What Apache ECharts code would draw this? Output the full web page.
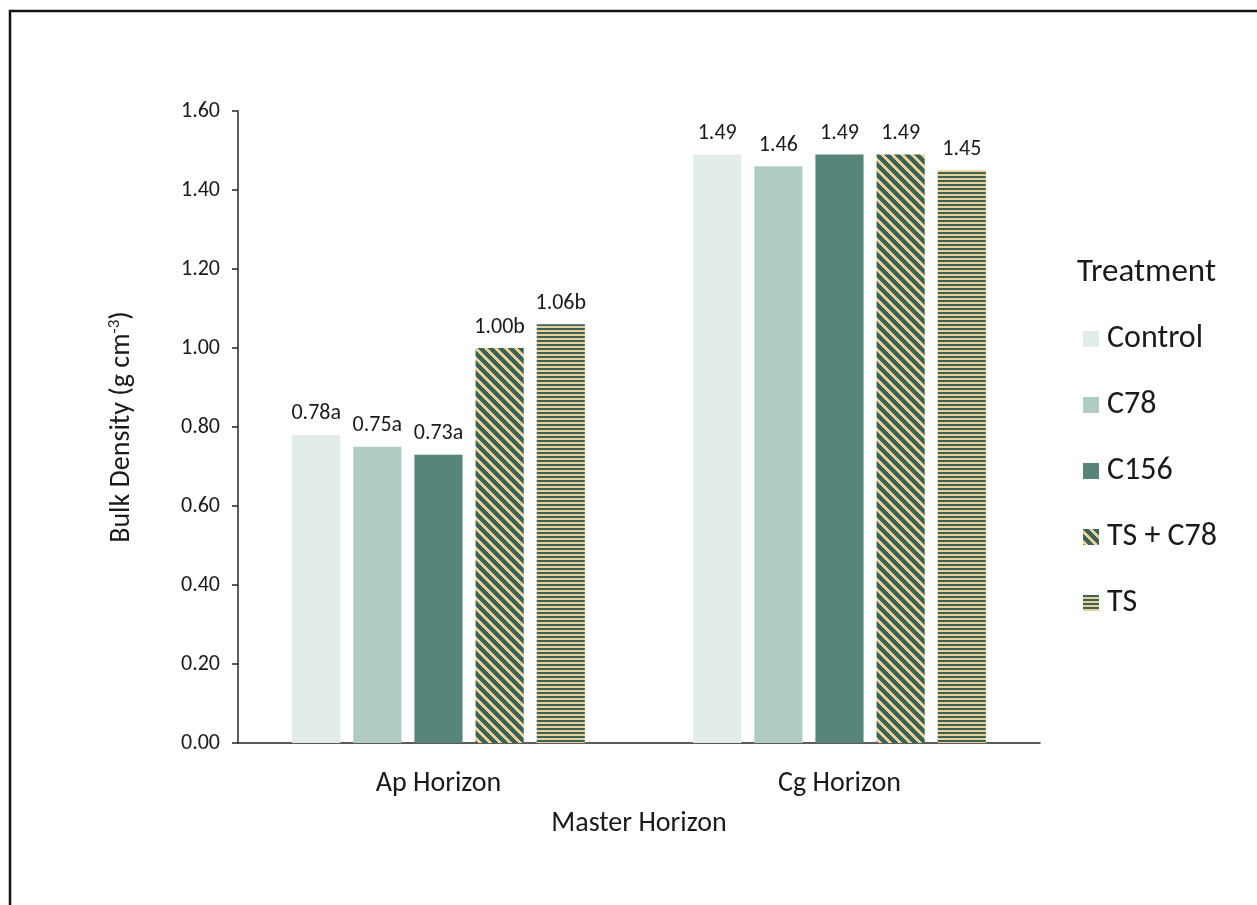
<!DOCTYPE html>
<html>
<head>
<meta charset="utf-8">
<script src="https://cdn.jsdelivr.net/npm/echarts@6/dist/echarts.min.js"></script>
<style>
  html, body { margin: 0; padding: 0; background: #fff; }
  #chart { width: 1257px; height: 905px; }
</style>
</head>
<body>
<div id="chart"></div>
<script>
// Bulk density by master horizon and treatment
const horizons = ['Ap Horizon', 'Cg Horizon'];
const treatments = ['Control', 'C78', 'C156', 'TS + C78', 'TS'];
const apValues = [0.78, 0.75, 0.73, 1.00, 1.06];
const cgValues = [1.49, 1.46, 1.49, 1.49, 1.45];
const apLetters = ['a', 'a', 'a', 'b', 'b'];
const cgLetters = ['', '', '', '', ''];
const yTicks = [0, 0.2, 0.4, 0.6, 0.8, 1.0, 1.2, 1.4, 1.6];

const FONT = 'Carlito, Lato, sans-serif';
const DARK = '#3d6354';
const TAN = '#e8d09a';

// Build a repeating tile; dark(x, y) decides whether a pixel takes the dark colour
function makeTile(w, h, dark) {
  const c = document.createElement('canvas');
  c.width = w; c.height = h;
  const ctx = c.getContext('2d');
  const img = ctx.createImageData(w, h);
  const hex = s => [parseInt(s.slice(1, 3), 16), parseInt(s.slice(3, 5), 16), parseInt(s.slice(5, 7), 16)];
  const d = hex(DARK), t = hex(TAN);
  for (let y = 0; y < h; y++) {
    for (let x = 0; x < w; x++) {
      const col = dark(x, y) ? d : t;
      const i = (y * w + x) * 4;
      img.data[i] = col[0]; img.data[i + 1] = col[1]; img.data[i + 2] = col[2]; img.data[i + 3] = 255;
    }
  }
  ctx.putImageData(img, 0, 0);
  return c;
}
const diagTile = makeTile(10, 10, (x, y) => ((x - y + 20) % 10) < 6);
const horizTile = makeTile(4, 4, (x, y) => y < 2);

const fills = [
  '#e2ece9',
  '#b0cbc4',
  '#57857a',
  { image: diagTile, repeat: 'repeat' },
  { image: horizTile, repeat: 'repeat' }
];

const series = treatments.map((name, i) => ({
  name: name,
  type: 'bar',
  barGap: '27%',
  barCategoryGap: '27%',
  itemStyle: { color: fills[i] },
  label: {
    show: true,
    position: 'top',
    distance: 10,
    color: '#1a1a1a',
    fontFamily: FONT,
    fontSize: 22,
    formatter: p => p.value.toFixed(2) + (p.dataIndex === 0 ? apLetters[i] : cgLetters[i])
  },
  data: [apValues[i], cgValues[i]]
}));

const chart = echarts.init(document.getElementById('chart'), null, { renderer: 'canvas' });
chart.setOption({
  backgroundColor: '#fff',
  animation: false,
  title: {
    text: 'Treatment',
    left: 1072,
    top: 251,
    textStyle: { fontFamily: FONT, fontSize: 33, fontWeight: 'normal', color: '#1a1a1a' }
  },
  legend: {
    orient: 'vertical',
    left: 1078,
    top: 317,
    icon: 'rect',
    itemWidth: 16,
    itemHeight: 16,
    itemGap: 32,
    textStyle: { fontFamily: FONT, fontSize: 32, color: '#1a1a1a', lineHeight: 34, padding: [0, 0, 0, 3] },
    data: treatments
  },
  grid: { left: 238, right: 217, top: 111, bottom: 162 },
  xAxis: {
    type: 'category',
    data: horizons,
    name: 'Master Horizon',
    nameLocation: 'middle',
    nameGap: 67,
    nameTextStyle: { fontFamily: FONT, fontSize: 28, color: '#1a1a1a' },
    axisLine: { lineStyle: { color: '#262626', width: 1.5 } },
    axisTick: { show: false },
    axisLabel: { fontFamily: FONT, fontSize: 28, color: '#1a1a1a', margin: 27 }
  },
  yAxis: {
    type: 'value',
    min: 0,
    max: 1.6,
    interval: 0.2,
    name: '{n|Bulk Density (g cm}{s|-3}{n|)}',
    nameLocation: 'middle',
    nameGap: 101,
    nameTextStyle: {
      rich: {
        n: { fontFamily: FONT, fontSize: 28, color: '#1a1a1a' },
        s: { fontFamily: FONT, fontSize: 17, color: '#1a1a1a', verticalAlign: 'top', padding: [0, 0, 14, 0] }
      }
    },
    axisLine: { show: true, lineStyle: { color: '#262626', width: 1.5 } },
    axisTick: { show: true, length: 6, lineStyle: { color: '#262626', width: 1.5 } },
    splitLine: { show: false },
    axisLabel: {
      fontFamily: FONT, fontSize: 22, color: '#1a1a1a', margin: 18,
      formatter: v => {
        const t = yTicks.find(k => Math.abs(k - v) < 1e-6);
        return (t === undefined ? v : t).toFixed(2);
      }
    }
  },
  graphic: [
    {
      type: 'polyline',
      shape: { points: [[10, 905], [10, 11], [1257, 11]] },
      style: { stroke: '#111', lineWidth: 2.5, fill: null }
    }
  ],
  series: series
});
</script>
</body>
</html>
